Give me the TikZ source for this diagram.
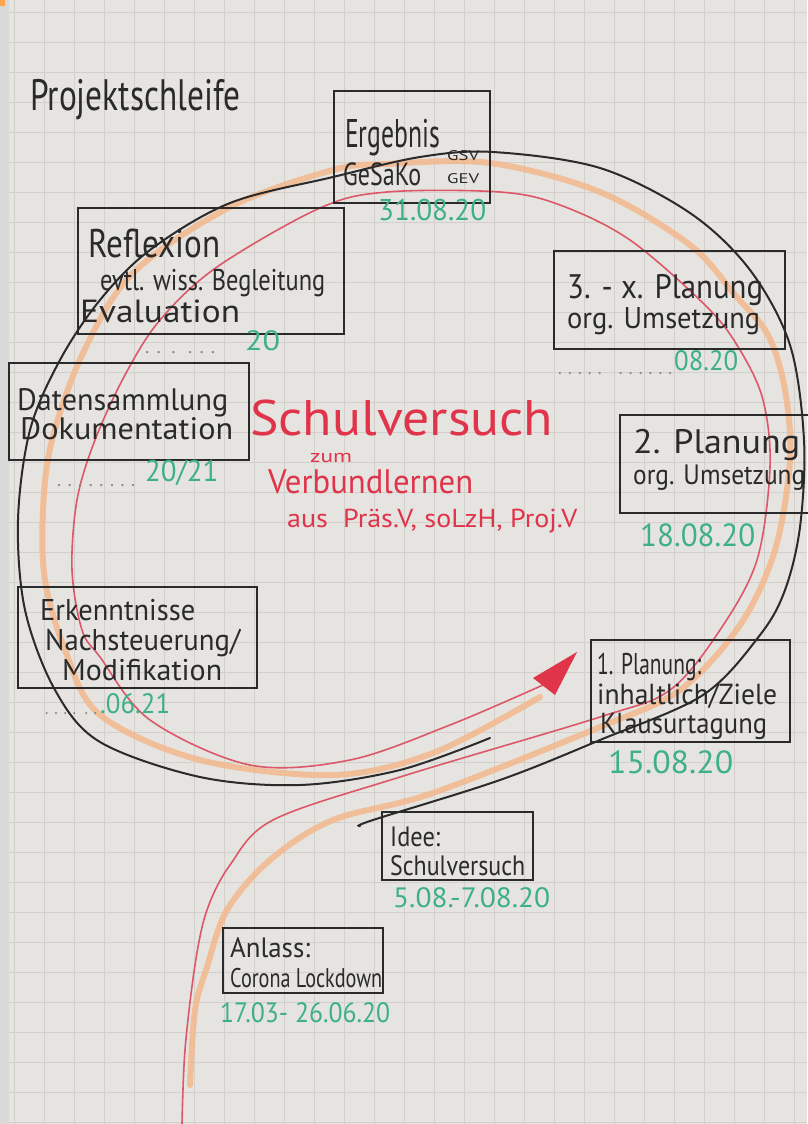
\documentclass[tikz,border=0pt]{standalone}
\usepackage{fontspec}
\setmainfont{PT Sans}
\usepackage{graphicx}
\definecolor{paper}{HTML}{E6E4E1}
\definecolor{gridc}{HTML}{D3D0CC}
\definecolor{strip}{HTML}{D9D9D9}
\definecolor{ink}{HTML}{2A2A2A}
\definecolor{grn}{HTML}{3DB088}
\definecolor{rtext}{HTML}{E0344A}
\definecolor{rline}{HTML}{DC5868}
\definecolor{oline}{HTML}{F4B88E}
\definecolor{dots}{HTML}{8A8A8A}
\newcommand\hw[3]{\resizebox{#1pt}{\height}{\fontsize{#2}{#2}\selectfont #3}}
\begin{document}
\begin{tikzpicture}[x=1pt,y=-1pt,
  box/.style={draw=ink,line width=2pt,inner sep=0pt},
  txt/.style={inner sep=0pt,anchor=base west,text=ink},
  gtxt/.style={inner sep=0pt,anchor=base west,text=grn},
  rtxt/.style={inner sep=0pt,anchor=base west,text=rtext},
  dtxt/.style={inner sep=0pt,anchor=base west,text=dots},
  blackline/.style={draw=ink,line width=2pt,line cap=round},
  orangeline/.style={draw=oline,line width=6pt,line cap=round,opacity=0.85},
  redline/.style={draw=rline,line width=1.6pt,line cap=round}]
\useasboundingbox (0,0) rectangle (807,1124);
\fill[paper] (0,0) rectangle (807,1124);
\foreach \i in {0,...,27} \draw[gridc,line width=0.7pt] ({14+\i*30},0) -- ({14+\i*30},1124);
\foreach \j in {0,...,37} \draw[gridc,line width=0.7pt] (9,{12+\j*30}) -- (807,{12+\j*30});
\fill[strip] (0,0) rectangle (9,1124);
\fill[orange!70] (0,0) rectangle (5,6);

% curves
\draw[orangeline] plot[smooth,tension=0.55] coordinates {(190,1085) (195,1010) (207,967) (227,910) (270,860) (333,820) (433,793) (600,727) (680,690) (740,625) (775,550) (790,460) (785,390) (768,335) (735,295) (690,245) (600,192) (490,163) (387,164) (333,170) (230,207) (133,273) (83,353) (52,440) (43,510) (45,580) (65,650) (100,715) (200,760) (333,775) (433,753) (540,697)};
\draw[redline] plot[smooth,tension=0.55] coordinates {(182,1124) (185,1050) (195,965) (207,910) (230,865) (273,820) (400,777) (600,717) (670,690) (720,630) (757,560) (770,467) (763,400) (740,350) (707,307) (630,240) (560,205) (500,192) (387,192) (320,208) (217,267) (160,320) (125,375) (95,440) (77,500) (72,570) (82,630) (100,657) (150,720) (250,765) (350,760) (450,725) (543,685)};
\fill[rtext] (577,652) -- (533,678) -- (555,695) -- cycle;
\draw[blackline] plot[smooth,tension=0.55] coordinates {(490,738) (400,770) (300,785) (200,777) (100,742) (55,690) (25,610) (18,520) (30,430) (60,360) (100,300) (150,250) (230,203) (333,177) (420,157) (493,152) (600,168) (690,213) (750,270) (790,345) (804,440) (800,527) (785,590) (760,635) (703,695) (600,740) (500,780) (373,820) (360,826)};

% boxes
\node[box,minimum width=156pt,minimum height=112pt] (erg) at (412,147) {};
\node[box,minimum width=266pt,minimum height=126pt] (ref) at (211,271) {};
\node[box,minimum width=231pt,minimum height=98pt] (p3) at (669,300) {};
\node[box,minimum width=240pt,minimum height=97pt] (dat) at (129,411) {};
\node[box,minimum width=200pt,minimum height=98pt] (p2) at (720,464) {};
\node[box,minimum width=239pt,minimum height=101pt] (erk) at (137,637) {};
\node[box,minimum width=199pt,minimum height=102pt] (p1) at (690,691) {};
\node[box,minimum width=151pt,minimum height=68pt] (idee) at (457,846) {};
\node[box,minimum width=160pt,minimum height=65pt] (anl) at (303,960) {};

% title
\node[txt] (title) at (30,110) {\hw{210}{44}{Projektschleife}};

% Ergebnis
\node[txt] (e1) at (345,147) {\hw{95}{40}{Ergebnis}};
\node[txt] (e2) at (343,185) {\hw{78}{32}{GeSaKo}};
\node[txt] (e3) at (447,160) {\hw{32}{14}{GSV}};
\node[txt] (e4) at (447,183) {\hw{32}{14}{GEV}};
\node[gtxt] (e5) at (378,220) {\hw{108}{30}{31.08.20}};

% Reflexion
\node[txt] (r1) at (88,257) {\hw{132}{40}{Reflexion}};
\node[txt] (r2) at (100,290) {\hw{225}{30}{evtl. wiss. Begleitung}};
\node[txt] (r3) at (80,322) {\hw{160}{32}{Evaluation}};
\node[dtxt] (r4) at (145,353) {\hw{70}{20}{. .\, .\; . . .}};
\node[gtxt] (r5) at (245,350) {\hw{35}{28}{20}};

% 3.-x. Planung
\node[txt] (q1) at (567,298) {\hw{196}{34}{3. - x. Planung}};
\node[txt] (q2) at (567,328) {\hw{193}{30}{org. Umsetzung}};
\node[dtxt] (q3) at (558,374) {\hw{114}{20}{. . . . .\quad . . . . . .}};
\node[gtxt] (q4) at (674,370) {\hw{64}{28}{08.20}};

% Datensammlung
\node[txt] (d1) at (17,410) {\hw{211}{31}{Datensammlung}};
\node[txt] (d2) at (20,439) {\hw{213}{31}{Dokumentation}};
\node[dtxt] (d3) at (57,486) {\hw{78}{20}{. . . . . . . .}};
\node[gtxt] (d4) at (145,481) {\hw{73}{30}{20/21}};

% 2. Planung
\node[txt] (s1) at (633,453) {\hw{167}{34}{2. Planung}};
\node[txt] (s2) at (633,484) {\hw{172}{28}{org. Umsetzung}};
\node[gtxt] (s3) at (640,546) {\hw{115}{32}{18.08.20}};

% Erkenntnisse
\node[txt] (k1) at (40,620) {\hw{155}{30}{Erkenntnisse}};
\node[txt] (k2) at (45,650) {\hw{195}{30}{Nachsteuerung/}};
\node[txt] (k3) at (62,680) {\hw{160}{30}{Modifikation}};
\node[dtxt] (k4) at (45,714) {\hw{52}{20}{. . . .\, . .}};
\node[gtxt] (k5) at (100,713) {\hw{70}{28}{.06.21}};

% 1. Planung
\node[txt] (o1) at (597,674) {\hw{104}{30}{1. Planung:}};
\node[txt] (o2) at (597,704) {\hw{180}{29}{inhaltlich/Ziele}};
\node[txt] (o3) at (600,733) {\hw{167}{29}{Klausurtagung}};
\node[gtxt] (o4) at (608,773) {\hw{125}{32}{15.08.20}};

% Idee
\node[txt] (i1) at (390,846) {\hw{50}{28}{Idee:}};
\node[txt] (i2) at (390,875) {\hw{135}{28}{Schulversuch}};
\node[gtxt] (i3) at (393,907) {\hw{157}{28}{5.08.-7.08.20}};

% Anlass
\node[txt] (a1) at (230,957) {\hw{80}{28}{Anlass:}};
\node[txt] (a2) at (230,987) {\hw{152}{27}{Corona Lockdown}};
\node[gtxt] (a3) at (220,1022) {\hw{170}{28}{17.03- 26.06.20}};

% centre
\node[rtxt] (c1) at (250,435) {\hw{303}{50}{Schulversuch}};
\node[rtxt] (c2) at (310,462) {\hw{42}{18}{zum}};
\node[rtxt] (c3) at (268,493) {\hw{205}{34}{Verbundlernen}};
\node[rtxt] (c4) at (287,527) {\hw{290}{26}{aus\ \ Präs.V, soLzH, Proj.V}};
\end{tikzpicture}
\end{document}
